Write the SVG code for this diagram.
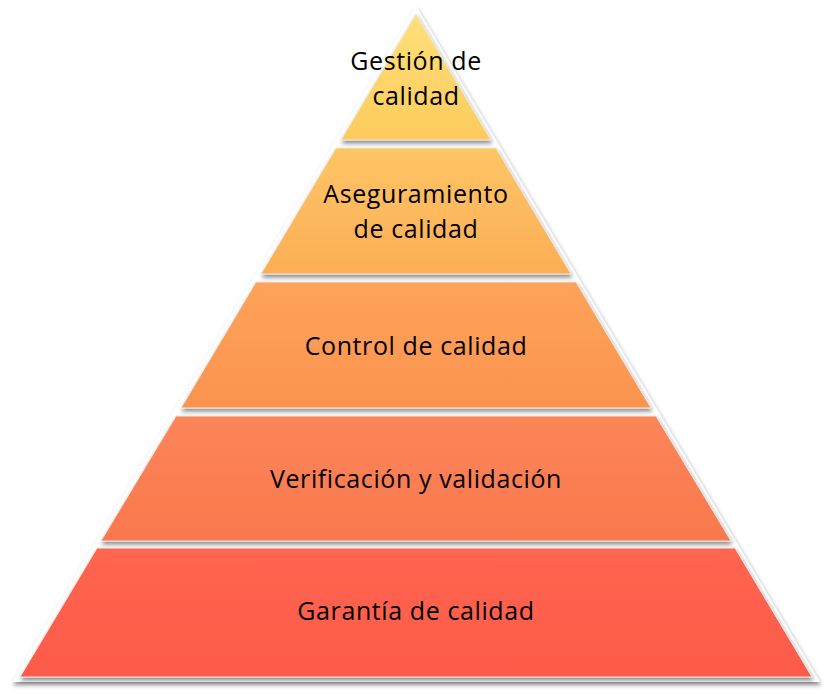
<svg xmlns="http://www.w3.org/2000/svg" width="832" height="694" viewBox="0 0 832 694">
<defs>
<linearGradient id="g1" x1="0" y1="0" x2="0" y2="1"><stop offset="0" stop-color="#FFE07A"/><stop offset="1" stop-color="#FDCB5C"/></linearGradient>
<linearGradient id="g2" x1="0" y1="0" x2="0" y2="1"><stop offset="0" stop-color="#FEC566"/><stop offset="1" stop-color="#FCAE55"/></linearGradient>
<linearGradient id="g3" x1="0" y1="0" x2="0" y2="1"><stop offset="0" stop-color="#FDA35A"/><stop offset="1" stop-color="#FB934F"/></linearGradient>
<linearGradient id="g4" x1="0" y1="0" x2="0" y2="1"><stop offset="0" stop-color="#FC8659"/><stop offset="1" stop-color="#FA774D"/></linearGradient>
<linearGradient id="g5" x1="0" y1="0" x2="0" y2="1"><stop offset="0" stop-color="#FF6650"/><stop offset="1" stop-color="#FD5A4A"/></linearGradient>
<filter id="sh" x="-5%" y="-5%" width="110%" height="110%"><feDropShadow dx="1" dy="3" stdDeviation="2" flood-color="#000" flood-opacity="0.45"/></filter>
</defs>
<style>
.t{font-family:"Open Sans","Liberation Sans",sans-serif;font-size:25px;letter-spacing:0.6px;fill:#000;text-anchor:middle}
.l{stroke:#e8e8e8;stroke-width:1;filter:url(#sh)}
</style>
<rect width="832" height="694" fill="#fff"/>
<polygon points="416,6 12,682 820,682" fill="#fff" filter="url(#sh)"/>
<g id="n1"><polygon class="l" points="416,14 341,140 491,140" fill="url(#g1)"/><text class="t" x="416" y="70">Gestión de</text><text class="t" x="416" y="105">calidad</text></g>
<g id="n2"><polygon class="l" points="336,148 496,148 571,274 261,274" fill="url(#g2)"/><text class="t" x="416" y="203">Aseguramiento</text><text class="t" x="416" y="238">de calidad</text></g>
<g id="n3"><polygon class="l" points="256,282 576,282 651,408 181,408" fill="url(#g3)"/><text class="t" x="416" y="355">Control de calidad</text></g>
<g id="n4"><polygon class="l" points="176,416 656,416 731,541 101,541" fill="url(#g4)"/><text class="t" x="416" y="488">Verificación y validación</text></g>
<g id="n5"><polygon class="l" points="97,548 735,548 812,677 20,677" fill="url(#g5)"/><text class="t" x="416" y="620">Garantía de calidad</text></g>
<g id="connectors"/>
</svg>
